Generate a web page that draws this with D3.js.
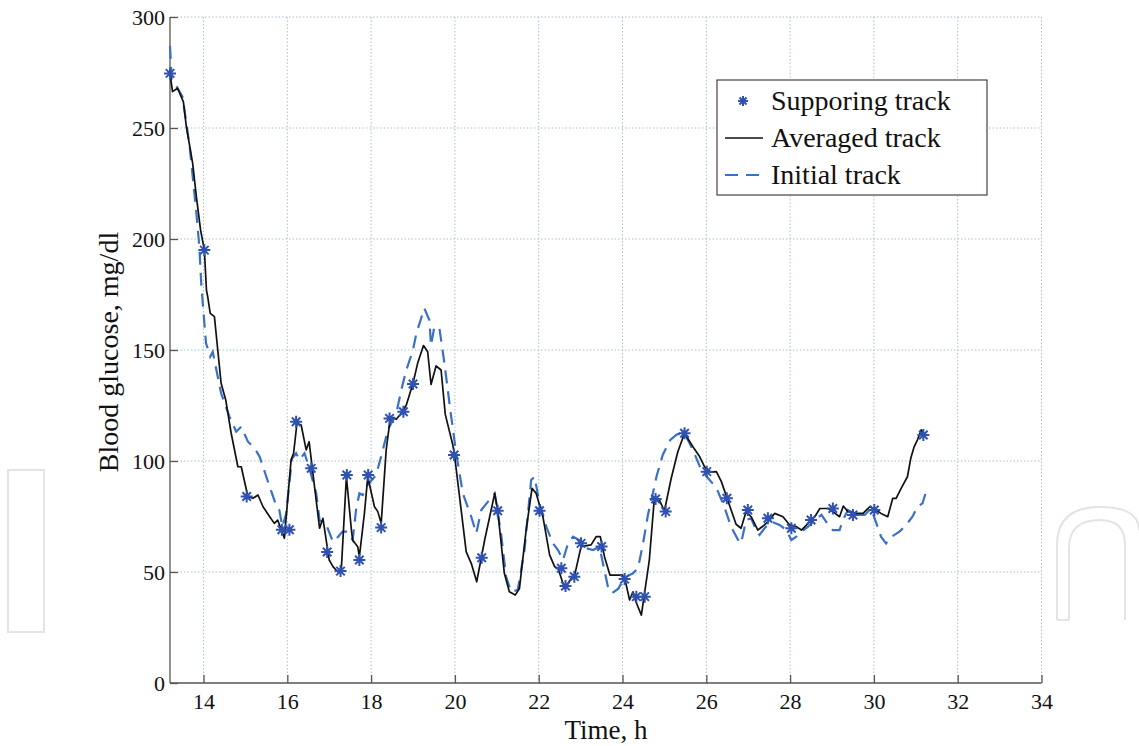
<!DOCTYPE html>
<html><head><meta charset="utf-8">
<script src="https://cdn.jsdelivr.net/npm/d3@7/dist/d3.min.js"></script>
<style>body{margin:0;background:#fff;} text{font-family:"Liberation Serif","Times New Roman",serif;fill:#111;}</style>
</head><body><svg id="c" width="1139" height="746"></svg>
<script>
// Supporting track (stars)
const supportT=[13.2,14.02,15.03,15.87,16.05,16.21,16.57,16.95,17.27,17.42,17.72,17.93,18.24,18.44,18.77,19.0,19.98,20.64,21.02,22.02,22.54,22.64,22.85,23.01,23.5,24.05,24.33,24.53,24.79,25.03,25.48,26.01,26.49,26.99,27.47,28.03,28.5,29.02,29.5,30.01,31.18];
const supportV=[274.6,195,84,69,69,117.7,96.7,59,50.4,93.7,55.4,93.7,70,119.2,122.2,134.7,102.7,56.4,77.6,77.6,51.7,43.7,47.9,62.9,61.5,46.8,38.9,38.9,82.9,77.2,112.5,95.2,83.2,77.9,74.2,69.7,73.4,78.6,75.7,77.9,111.7];
// Averaged track (solid black)
const avgT=[13.2,13.26,13.38,13.52,13.59,13.74,13.83,13.93,14.02,14.07,14.1,14.16,14.26,14.34,14.42,14.53,14.66,14.82,14.9,15.06,15.18,15.3,15.42,15.58,15.69,15.77,15.93,16.09,16.15,16.23,16.33,16.45,16.52,16.77,16.85,17.0,17.09,17.2,17.29,17.41,17.53,17.56,17.68,17.72,17.84,17.92,18.08,18.16,18.24,18.36,18.46,18.6,18.72,18.84,19.0,19.11,19.25,19.35,19.43,19.55,19.67,19.77,19.95,19.99,20.27,20.39,20.52,20.71,20.95,21.02,21.18,21.3,21.44,21.54,21.7,21.84,21.94,22.1,22.26,22.38,22.46,22.62,22.78,22.85,23.01,23.25,23.37,23.47,23.57,23.7,24.0,24.08,24.17,24.25,24.32,24.45,24.64,24.76,24.88,25.0,25.16,25.32,25.48,25.68,25.84,25.96,26.1,26.24,26.36,26.5,26.71,26.83,26.95,27.07,27.23,27.39,27.51,27.63,27.83,27.99,28.15,28.27,28.43,28.59,28.71,28.91,29.02,29.18,29.27,29.38,29.58,29.74,29.9,30.03,30.17,30.33,30.45,30.53,30.65,30.8,30.88,30.96,31.04,31.13,31.2];
const avgV=[274.6,266.4,267.9,261.8,250.6,234.2,219,204,195,177,174,166.5,165,150,135,127.5,112.5,97.4,97.4,83.9,83.2,84.7,79.4,74.9,71.9,73.4,65.2,100.5,103.5,117,116.2,105,108.7,69.7,74.2,55.4,52.4,50.1,51.7,92.9,68.9,64.4,61.4,56.9,76.4,92.9,79.4,77.2,71.9,105,119.7,118.8,121.5,125.2,135,144,152,149.2,134.5,142.8,141,121,107.2,102.7,59.1,53.9,45.6,64.4,85.4,77.9,49.4,41.1,39.6,42.6,68.9,87.7,85.4,74.9,57.7,52.4,51.7,42.6,47.2,47.9,61.4,62.2,65.9,65.9,56.9,48.6,48.6,44.9,37.4,41.1,36.6,30.6,55.4,83.2,82.4,77.5,92,104.2,112.5,106.4,102,97.4,95,95.2,90.7,83,71.5,69.7,77.2,74.9,68.9,71.2,73.4,76.4,74.9,71.2,70.4,68.9,71.9,74.9,78.6,78.6,77.2,74.9,79.7,77.2,76.4,76.4,79.4,78.2,76.4,74.9,83.2,83.2,87.7,92.9,101.2,106.4,109.5,114,111];
// Initial track (dashed blue)
const initT=[13.2,13.24,13.38,13.5,13.67,13.83,13.9,13.95,14.06,14.16,14.22,14.42,14.62,14.78,14.9,15.06,15.22,15.34,15.58,15.73,15.81,15.88,15.97,16.11,16.21,16.29,16.41,16.53,16.69,16.77,16.93,17.09,17.18,17.32,17.44,17.56,17.64,17.72,17.8,17.88,18.12,18.28,18.4,18.6,18.72,18.84,19.0,19.08,19.27,19.39,19.43,19.51,19.63,19.75,19.89,20.03,20.19,20.39,20.51,20.63,20.79,20.95,21.1,21.22,21.34,21.5,21.66,21.82,21.9,22.02,22.18,22.34,22.46,22.58,22.7,22.82,22.97,23.13,23.3,23.45,23.65,23.75,23.9,24.05,24.25,24.37,24.49,24.61,24.69,24.81,24.96,25.14,25.3,25.48,25.68,25.88,26.1,26.24,26.43,26.59,26.76,26.83,26.95,27.07,27.19,27.27,27.39,27.55,27.75,27.91,28.03,28.15,28.27,28.43,28.59,28.75,28.91,29.02,29.18,29.26,29.38,29.58,29.78,29.93,30.03,30.17,30.29,30.41,30.49,30.61,30.77,30.92,31.04,31.16,31.28];
const initV=[287,272,268,264,241.6,211.7,196.5,178.5,153,147,149.2,130.5,120,113.2,115.5,108.7,105.7,101.9,88.4,80.2,77.9,70.4,76,101,103.5,100.5,103.5,96.5,85.4,73.4,71.2,63.6,65.2,68.2,68.2,64.4,77.9,85.4,84.7,88.4,93.7,105,114,121.5,132,141,150,157.5,168.8,163.5,152,160.5,159.8,144,123,103.5,85.4,74.9,67.4,77.9,81.7,85.4,67.4,47.9,41.1,41.9,59.9,91.4,92.9,80.9,70.4,62.9,59.9,55.4,62.9,65.9,64.4,60.7,59.9,61.4,43.5,40.4,42.5,47.5,49.4,51.7,62.9,76,82.4,92.9,102.7,109.5,112,112.5,105,96,91,88,79.4,70.4,64.4,62.9,73.4,74.2,68.9,66.7,69.7,72.7,71.2,68.9,64.4,65.9,68.2,70.4,73.4,75.7,71.2,68.9,68.9,73.4,77.9,75.7,75.7,78.6,73.5,65.9,62.9,65.9,66.7,68.2,71.2,74.9,79.4,80.9,88.4];
const xTicks=[14,16,18,20,22,24,26,28,30,32,34];
const yTicks=[0,50,100,150,200,250,300];
const legendLabels=["Supporing track","Averaged track","Initial track"];
const xLabel="Time, h", yLabel="Blood glucose, mg/dl";

const svg=d3.select("#c");
const L=170,R=1041.5,T=17,B=683;
const x=d3.scaleLinear().domain([13.2,34]).range([L,R]);
const y=d3.scaleLinear().domain([0,300]).range([B,T]);

// faint watermark
const wm=svg.append("g").attr("fill","none").attr("stroke","#e4e4e4").attr("stroke-width",2);
wm.append("path").attr("d","M8,470 H44 V632 H8 Z");
wm.append("path").attr("d","M1057,620 V545 Q1057,507 1100,507 Q1139,507 1139,530 M1069,620 V548 Q1069,520 1100,520 Q1125,520 1125,545 V620 M1057,620 H1069");

// grid
const grid=svg.append("g").attr("stroke","#a9c1d3").attr("stroke-width",1).attr("stroke-dasharray","1.5,2");
grid.selectAll(".gx").data(xTicks).join("line").attr("x1",d=>x(d)).attr("x2",d=>x(d)).attr("y1",T).attr("y2",B);
grid.selectAll(".gy").data(yTicks.filter(d=>d>0)).join("line").attr("x1",L).attr("x2",R).attr("y1",d=>y(d)).attr("y2",d=>y(d));

// axes
const xAxis=d3.axisBottom(x).tickValues(xTicks).tickSizeInner(-8).tickSizeOuter(0).tickPadding(10);
const yAxis=d3.axisLeft(y).tickValues(yTicks).tickSizeInner(-8).tickSizeOuter(0).tickPadding(5);
const gx=svg.append("g").attr("transform",`translate(0,${B})`).call(xAxis);
const gy=svg.append("g").attr("transform",`translate(${L},0)`).call(yAxis);
[gx,gy].forEach(g=>{g.select(".domain").attr("stroke","#555").attr("stroke-width",1.3);
 g.selectAll(".tick line").attr("stroke","#555").attr("stroke-width",1.3);
 g.selectAll(".tick text").style("font-family","Liberation Serif").style("font-size","22px").attr("fill","#111");});
gy.select(".domain").attr("d",`M0,${B}V${T}`);
gx.select(".domain").attr("d",`M${L},0H${R}`);

// lines
const lineGen=d3.line().x(d=>x(d[0])).y(d=>y(d[1]));
const initData=initT.map((t,i)=>[t,initV[i]]);
const avgData=avgT.map((t,i)=>[t,avgV[i]]);
svg.append("path").datum(initData).attr("d",lineGen).attr("fill","none").attr("stroke","#3a70c8").attr("stroke-width",2.2).attr("stroke-dasharray","13,8");
svg.append("path").datum(avgData).attr("d",lineGen).attr("fill","none").attr("stroke","#111").attr("stroke-width",1.7).attr("stroke-linejoin","round");

// stars
function starPath(r){const a=r*0.7071;return `M0,${-r}V${r}M${-r},0H${r}M${-a},${-a}L${a},${a}M${-a},${a}L${a},${-a}`;}
svg.append("g").selectAll("path").data(supportT.map((t,i)=>[t,supportV[i]])).join("path")
 .attr("transform",d=>`translate(${x(d[0])},${y(d[1])})`).attr("d",starPath(6)).attr("stroke","#2f52b0").attr("stroke-width",2).attr("fill","none");

// legend
const lg=svg.append("g");
lg.append("rect").attr("x",717).attr("y",80).attr("width",270).attr("height",115).attr("fill","#fff").attr("stroke","#4a4040").attr("stroke-width",1.2);
const rowsY=[101,138,175];
lg.selectAll("text").data(legendLabels).join("text").attr("x",771).attr("y",(d,i)=>rowsY[i]+9).style("font-size","28px").text(d=>d);
lg.append("path").attr("transform",`translate(743,${rowsY[0]})`).attr("d",starPath(5)).attr("stroke","#2f52b0").attr("stroke-width",2);
lg.append("line").attr("x1",725).attr("x2",763).attr("y1",rowsY[1]).attr("y2",rowsY[1]).attr("stroke","#111").attr("stroke-width",1.7);
lg.append("line").attr("x1",725).attr("x2",763).attr("y1",rowsY[2]).attr("y2",rowsY[2]).attr("stroke","#3a70c8").attr("stroke-width",2.2).attr("stroke-dasharray","13,8");

// axis labels
svg.append("text").attr("x",606).attr("y",739).attr("text-anchor","middle").style("font-size","27px").text(xLabel);
svg.append("text").attr("transform","translate(118,352) rotate(-90)").attr("text-anchor","middle").style("font-size","28px").text(yLabel);
</script></body></html>
